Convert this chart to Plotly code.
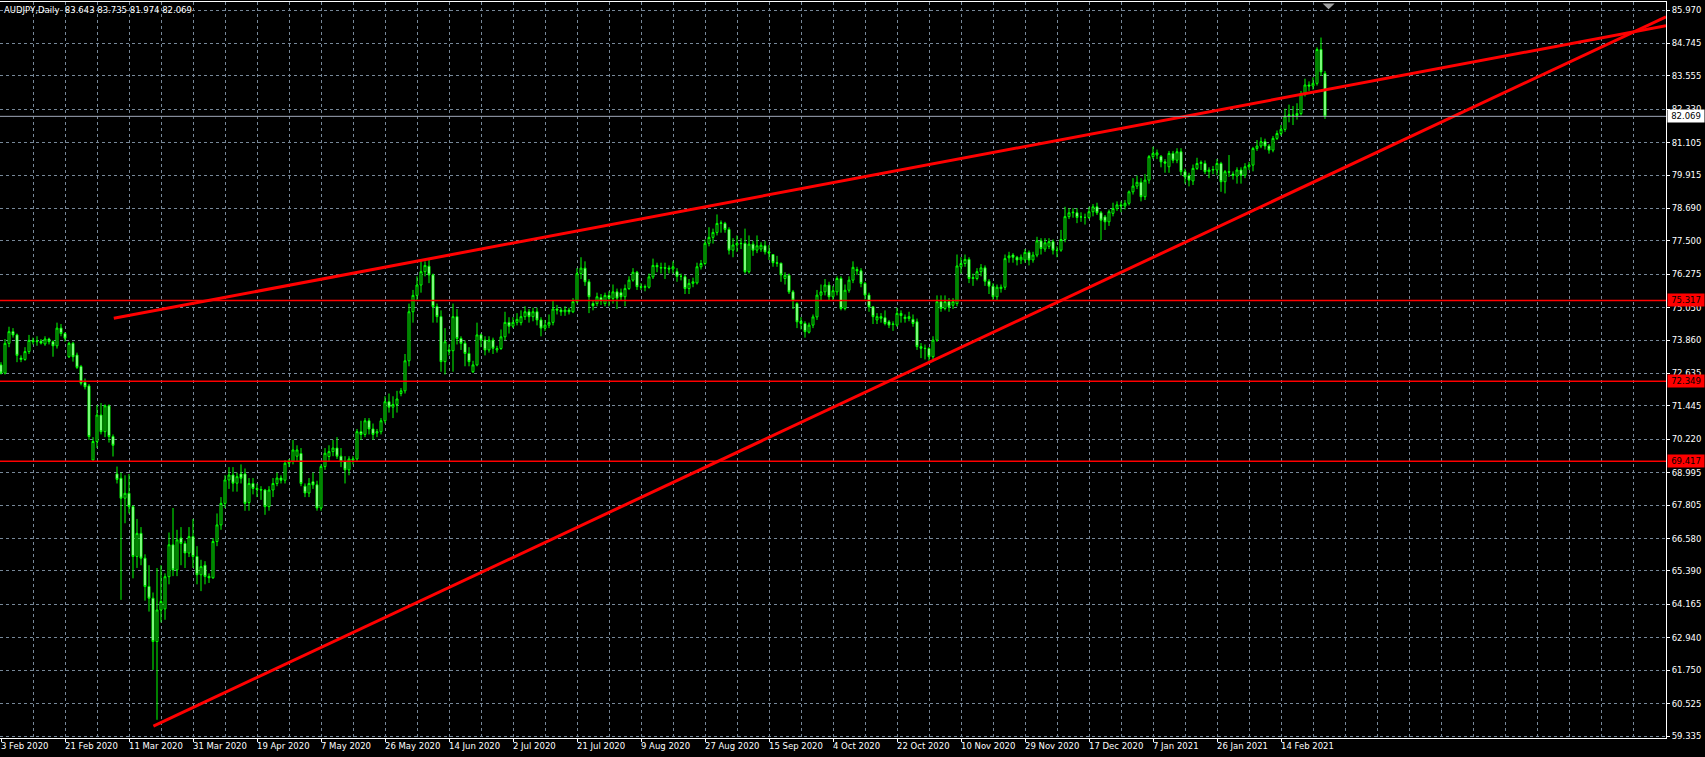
import plotly.graph_objects as go

# AUDJPY daily bars, 3 Feb 2020 .. 26 Feb 2021 (feed with Sunday bars)
opens = [
    72.95, 72.65, 73.74, 74.17, 74.05, 73.20, 73.15, 73.44, 73.85, 73.80,
    73.82, 73.72, 73.90, 73.80, 73.65, 74.30, 74.10, 73.25, 73.74, 73.31,
    72.89, 72.30, 72.18, 69.46, 70.14, 71.11, 70.50, 71.45, 70.32, 68.95,
    68.79, 68.06, 68.24, 67.75, 65.92, 66.77, 65.86, 64.82, 64.39, 62.80,
    63.96, 64.00, 65.18, 66.35, 65.43, 66.60, 66.40, 66.05, 66.65, 65.92,
    65.25, 65.60, 65.19, 65.14, 66.47, 67.08, 67.87, 68.73, 68.91, 68.61,
    68.95, 68.95, 67.90, 68.60, 68.42, 68.38, 68.36, 67.75, 68.36, 68.60,
    68.80, 68.72, 69.34, 69.41, 69.60, 69.70, 68.50, 68.25, 68.66, 68.55,
    67.70, 69.22, 69.59, 69.77, 69.90, 69.60, 69.40, 69.10, 69.45, 69.50,
    70.50, 70.40, 70.90, 70.60, 70.45, 70.50, 70.90, 71.60, 71.40, 71.50,
    71.90, 72.00, 73.10, 74.90, 75.50, 75.88, 76.37, 76.57, 76.25, 75.09,
    74.72, 73.07, 73.50, 73.47, 74.72, 73.92, 73.74, 73.37, 72.70, 72.95,
    74.05, 73.86, 73.50, 73.86, 73.50, 73.55, 73.98, 74.51, 74.37, 74.51,
    74.50, 74.72, 74.90, 74.72, 74.90, 74.60, 74.30, 74.41, 74.51, 75.00,
    74.96, 74.90, 74.96, 74.90, 75.27, 76.30, 76.50, 76.00, 75.20, 75.20,
    75.42, 75.20, 75.50, 75.39, 75.63, 75.60, 75.45, 75.75, 76.06, 76.35,
    75.82, 75.80, 75.80, 76.18, 76.60, 76.50, 76.52, 76.50, 76.47, 76.37,
    76.20, 76.18, 75.75, 75.94, 75.96, 76.55, 76.67, 77.41, 77.63, 77.81,
    78.14, 78.14, 77.92, 77.16, 77.35, 77.41, 77.41, 76.37, 77.38, 77.16,
    77.20, 77.32, 77.10, 77.00, 76.70, 76.68, 76.12, 76.24, 75.63, 75.20,
    74.55, 74.47, 74.15, 74.41, 74.71, 75.51, 75.63, 75.88, 75.45, 75.63,
    76.12, 75.02, 75.69, 76.06, 76.45, 76.40, 75.94, 75.51, 75.08, 74.60,
    74.72, 74.68, 74.53, 74.43, 74.41, 74.84, 74.70, 74.65, 74.62, 74.53,
    73.62, 73.56, 73.55, 73.25, 73.86, 75.27, 75.02, 75.27, 75.14, 75.20,
    76.55, 76.67, 76.82, 76.12, 76.12, 76.37, 76.51, 76.02, 75.84, 75.45,
    75.75, 75.80, 76.88, 76.98, 76.90, 76.80, 76.80, 77.08, 76.80, 76.98,
    77.50, 77.20, 77.30, 77.47, 77.16, 77.16, 77.55, 78.39, 78.53, 78.53,
    78.38, 78.36, 78.36, 78.57, 78.75, 78.53, 78.38, 78.20, 78.51, 78.69,
    78.82, 78.78, 78.88, 79.30, 79.51, 79.65, 79.12, 79.73, 80.59, 80.65,
    80.60, 80.40, 80.22, 80.71, 80.46, 80.77, 80.04, 79.90, 79.70, 80.16,
    80.34, 80.34, 80.04, 80.10, 80.10, 80.34, 79.67, 80.04, 79.95, 79.88,
    80.10, 79.91, 80.22, 80.28, 80.89, 80.98, 81.14, 80.98, 80.83, 81.26,
    81.44, 81.59, 82.08, 82.12, 82.10, 82.17, 82.91, 83.22, 83.18, 83.28,
    84.52, 83.643,
]
highs = [
    73.05, 73.90, 74.35, 74.30, 74.10, 73.30, 73.60, 74.05, 73.95, 74.00,
    73.90, 74.00, 73.95, 73.85, 74.50, 74.45, 74.15, 73.80, 73.80, 73.40,
    72.95, 72.45, 72.25, 70.30, 71.48, 71.55, 71.50, 71.50, 70.40, 69.22,
    69.00, 68.90, 68.95, 67.80, 67.30, 67.00, 66.00, 65.60, 64.60, 65.50,
    65.60, 65.30, 66.80, 67.70, 66.90, 67.00, 66.50, 67.00, 67.30, 66.30,
    65.80, 65.75, 65.30, 66.60, 67.50, 68.10, 68.90, 69.20, 69.20, 69.00,
    69.30, 69.15, 68.80, 68.80, 68.60, 68.50, 68.40, 68.50, 68.80, 69.00,
    68.90, 69.45, 69.50, 70.20, 70.00, 69.90, 68.60, 68.80, 69.00, 68.70,
    69.30, 69.90, 70.00, 70.20, 70.30, 69.90, 69.60, 69.60, 69.60, 70.60,
    70.90, 71.00, 71.00, 70.80, 70.60, 71.00, 71.80, 71.90, 71.80, 72.00,
    72.10, 73.35, 75.20, 75.70, 76.20, 76.75, 76.75, 76.80, 76.30, 75.20,
    74.95, 74.30, 73.70, 75.20, 75.00, 74.00, 73.85, 73.60, 73.10, 74.50,
    74.10, 74.00, 74.00, 73.95, 73.65, 74.25, 74.90, 74.70, 74.70, 74.85,
    74.95, 75.10, 75.00, 75.05, 75.05, 74.70, 74.60, 74.80, 75.30, 75.15,
    75.05, 75.10, 75.05, 75.40, 76.50, 76.90, 76.75, 76.10, 75.30, 75.60,
    75.55, 75.60, 75.65, 75.90, 75.75, 75.75, 75.90, 76.20, 76.50, 76.40,
    75.95, 75.90, 76.30, 76.85, 76.70, 76.70, 76.70, 76.60, 76.75, 76.50,
    76.30, 76.25, 76.10, 76.15, 76.70, 76.80, 77.55, 78.00, 77.95, 78.47,
    78.25, 78.20, 78.00, 77.60, 77.70, 77.60, 77.95, 77.70, 77.50, 77.70,
    77.45, 77.50, 77.35, 77.00, 76.95, 76.70, 76.35, 76.30, 75.70, 75.25,
    74.70, 74.55, 74.50, 74.80, 75.70, 75.90, 76.10, 76.00, 75.85, 76.20,
    76.20, 75.90, 76.20, 76.75, 76.55, 76.50, 76.00, 75.60, 75.10, 74.85,
    74.85, 74.95, 74.60, 74.55, 75.05, 74.95, 74.80, 74.90, 74.80, 74.65,
    73.75, 73.70, 73.60, 74.00, 75.50, 75.50, 75.50, 75.40, 75.40, 77.00,
    76.90, 77.00, 76.90, 76.30, 76.50, 76.65, 76.60, 76.10, 75.95, 75.90,
    75.90, 77.00, 77.10, 77.05, 76.95, 77.00, 77.20, 77.15, 77.10, 77.65,
    77.60, 77.60, 77.60, 77.55, 77.30, 77.90, 78.75, 78.70, 78.70, 78.70,
    78.55, 78.50, 78.75, 78.85, 78.90, 78.60, 78.45, 78.65, 78.90, 78.95,
    78.95, 79.00, 79.35, 79.80, 79.90, 79.80, 79.95, 80.65, 80.95, 80.85,
    80.65, 80.50, 80.80, 80.80, 80.90, 80.90, 80.15, 80.00, 80.30, 80.55,
    80.45, 80.45, 80.20, 80.25, 80.50, 80.40, 80.10, 80.65, 80.05, 80.20,
    80.20, 80.35, 80.40, 80.95, 81.20, 81.30, 81.25, 81.05, 81.35, 81.55,
    81.75, 82.35, 82.50, 82.45, 82.55, 83.00, 83.45, 83.35, 83.50, 84.60,
    84.96, 83.735,
]
lows = [
    72.60, 72.60, 73.60, 73.95, 73.05, 73.05, 73.10, 73.35, 73.70, 73.65,
    73.70, 73.65, 73.70, 73.25, 73.55, 74.00, 73.80, 73.20, 73.07, 72.80,
    72.20, 72.05, 70.20, 69.45, 69.90, 70.40, 70.30, 70.10, 69.59, 68.60,
    64.33, 67.14, 67.50, 65.12, 65.50, 65.60, 64.30, 63.90, 61.76, 59.93,
    63.50, 63.60, 64.90, 65.20, 65.20, 65.60, 65.50, 65.90, 65.50, 64.90,
    64.65, 64.90, 64.95, 65.10, 66.30, 66.90, 67.70, 68.40, 68.30, 68.30,
    68.60, 67.60, 67.60, 68.20, 68.10, 68.00, 67.45, 67.60, 68.10, 68.50,
    68.60, 68.60, 69.20, 69.30, 69.40, 68.50, 68.10, 68.10, 68.40, 67.60,
    67.60, 69.10, 69.40, 69.60, 69.50, 69.20, 68.60, 68.90, 69.30, 69.40,
    70.20, 70.30, 70.40, 70.20, 70.30, 70.40, 70.80, 71.20, 71.00, 71.20,
    71.80, 71.90, 72.90, 74.50, 75.30, 75.60, 76.20, 75.95, 74.50, 74.50,
    72.70, 72.60, 73.30, 72.70, 73.70, 73.50, 72.90, 72.90, 72.65, 72.90,
    73.60, 73.30, 73.40, 73.35, 73.40, 73.50, 73.85, 74.10, 74.30, 74.40,
    74.40, 74.60, 74.50, 74.55, 74.40, 74.00, 74.20, 74.30, 74.40, 74.80,
    74.75, 74.75, 74.80, 74.85, 75.20, 76.10, 75.85, 74.85, 74.95, 75.10,
    75.15, 75.10, 75.10, 75.20, 75.00, 75.30, 75.10, 75.70, 76.00, 75.70,
    75.70, 75.65, 75.75, 76.10, 76.35, 76.30, 76.10, 76.30, 76.30, 76.00,
    76.05, 75.55, 75.55, 75.80, 75.90, 76.45, 76.60, 77.30, 77.40, 77.70,
    77.80, 77.80, 77.00, 76.90, 77.10, 77.20, 76.30, 76.30, 76.95, 77.05,
    77.10, 77.00, 76.80, 76.55, 76.55, 76.00, 75.90, 75.55, 75.00, 74.30,
    74.25, 73.95, 74.10, 74.30, 74.60, 75.30, 75.50, 75.30, 75.30, 75.50,
    74.95, 74.95, 75.60, 75.95, 76.25, 75.80, 75.35, 74.90, 74.45, 74.45,
    74.50, 74.40, 74.30, 74.20, 74.35, 74.50, 74.50, 74.55, 74.35, 73.50,
    73.20, 73.15, 73.10, 73.15, 73.80, 74.90, 74.95, 74.90, 75.00, 75.10,
    76.30, 76.55, 75.95, 75.85, 76.05, 76.20, 75.85, 75.55, 75.30, 75.30,
    75.60, 75.70, 76.70, 76.70, 76.60, 76.65, 76.70, 76.60, 76.70, 76.90,
    77.00, 77.10, 77.20, 77.00, 76.90, 77.10, 77.45, 78.30, 78.35, 78.15,
    78.20, 78.10, 78.30, 78.40, 78.45, 77.53, 77.90, 78.05, 78.40, 78.60,
    78.55, 78.65, 78.80, 79.20, 79.40, 78.95, 79.00, 79.60, 80.50, 80.50,
    80.20, 80.00, 80.00, 80.35, 80.35, 79.90, 79.60, 79.50, 79.55, 80.10,
    80.10, 79.95, 79.80, 79.95, 79.90, 79.30, 79.24, 79.85, 79.75, 79.60,
    79.60, 79.80, 80.10, 80.05, 80.80, 80.90, 80.85, 80.70, 80.75, 81.20,
    81.35, 81.50, 81.85, 81.75, 81.95, 82.10, 82.80, 83.00, 83.05, 83.20,
    83.55, 81.974,
]
closes = [
    72.65, 73.74, 74.17, 74.05, 73.30, 73.15, 73.44, 73.85, 73.80, 73.82,
    73.75, 73.90, 73.80, 73.65, 74.30, 74.10, 73.93, 73.74, 73.25, 72.86,
    72.28, 72.15, 70.32, 70.14, 71.11, 70.50, 71.45, 70.32, 70.00, 68.75,
    68.06, 68.24, 67.75, 65.92, 66.77, 65.86, 64.82, 64.39, 62.80, 63.96,
    64.27, 65.18, 66.35, 65.43, 66.53, 66.40, 66.05, 66.65, 65.92, 65.25,
    65.55, 65.19, 65.14, 66.47, 67.08, 67.87, 68.73, 68.91, 68.61, 68.85,
    68.79, 67.87, 68.60, 68.42, 68.38, 68.36, 67.75, 68.36, 68.60, 68.80,
    68.72, 69.34, 69.41, 69.83, 69.83, 68.60, 68.25, 68.60, 68.55, 67.70,
    69.22, 69.71, 69.77, 69.90, 69.60, 69.40, 69.10, 69.50, 69.50, 70.50,
    70.40, 70.90, 70.60, 70.40, 70.50, 70.90, 71.60, 71.40, 71.50, 71.70,
    72.00, 73.10, 74.90, 75.50, 75.88, 76.37, 76.60, 76.25, 75.09, 74.72,
    73.07, 73.80, 73.45, 74.72, 73.92, 73.74, 73.37, 73.07, 72.95, 74.05,
    73.86, 73.50, 73.86, 73.56, 73.55, 73.98, 74.51, 74.37, 74.51, 74.62,
    74.72, 74.90, 74.72, 74.90, 74.60, 74.30, 74.41, 74.51, 75.00, 74.96,
    74.90, 74.96, 74.90, 75.27, 76.30, 76.50, 76.00, 75.45, 75.12, 75.45,
    75.30, 75.50, 75.39, 75.63, 75.40, 75.45, 75.75, 76.06, 76.35, 75.82,
    75.80, 75.82, 76.18, 76.60, 76.55, 76.52, 76.50, 76.47, 76.55, 76.20,
    76.20, 75.75, 75.94, 76.00, 76.55, 76.67, 77.41, 77.63, 77.81, 78.14,
    78.16, 77.92, 77.16, 77.35, 77.41, 77.40, 76.37, 77.38, 77.16, 77.32,
    77.34, 77.10, 77.05, 76.70, 76.68, 76.25, 76.24, 75.63, 75.33, 74.53,
    74.47, 74.17, 74.41, 74.71, 75.51, 75.63, 75.88, 75.45, 75.67, 76.12,
    75.02, 75.69, 76.06, 76.53, 76.40, 75.94, 75.51, 75.08, 74.72, 74.72,
    74.66, 74.47, 74.41, 74.45, 74.84, 74.76, 74.65, 74.72, 74.47, 73.62,
    73.56, 73.55, 73.25, 73.86, 75.27, 75.02, 75.27, 75.08, 75.27, 76.58,
    76.67, 76.82, 76.12, 76.15, 76.37, 76.51, 76.02, 75.84, 75.45, 75.80,
    75.80, 76.85, 76.95, 76.90, 76.80, 76.90, 77.08, 76.80, 76.98, 77.50,
    77.22, 77.43, 77.47, 77.16, 77.15, 77.55, 78.39, 78.53, 78.55, 78.36,
    78.38, 78.36, 78.57, 78.75, 78.53, 78.26, 78.20, 78.57, 78.69, 78.82,
    78.78, 78.88, 79.30, 79.51, 79.65, 79.12, 79.73, 80.59, 80.71, 80.73,
    80.40, 80.35, 80.71, 80.46, 80.77, 80.04, 79.85, 79.73, 80.16, 80.34,
    80.38, 80.04, 80.10, 80.12, 80.34, 79.67, 80.04, 80.02, 79.90, 80.10,
    79.91, 80.22, 80.28, 80.89, 80.98, 81.14, 80.98, 80.83, 81.26, 81.44,
    81.59, 82.08, 82.12, 82.10, 82.17, 82.91, 83.22, 83.18, 83.28, 84.52,
    83.70, 82.069,
]

# one label every 16 bars, as the terminal prints them
date_labels = [
    "3 Feb 2020", "21 Feb 2020", "11 Mar 2020", "31 Mar 2020", "19 Apr 2020",
    "7 May 2020", "26 May 2020", "14 Jun 2020", "2 Jul 2020", "21 Jul 2020",
    "9 Aug 2020", "27 Aug 2020", "15 Sep 2020", "4 Oct 2020", "22 Oct 2020",
    "10 Nov 2020", "29 Nov 2020", "17 Dec 2020", "7 Jan 2021", "26 Jan 2021",
    "14 Feb 2021",
]
price_ticks = [
    85.970, 84.745, 83.555, 82.330, 81.105, 79.915, 78.690, 77.500, 76.275,
    75.050, 73.860, 72.635, 71.445, 70.220, 68.995, 67.805, 66.580, 65.390,
    64.165, 62.940, 61.750, 60.525, 59.335,
]
levels = [75.317, 72.349, 69.417]
bid = 82.069
ohlc_text = "AUDJPY,Daily\u00a0 83.643 83.735 81.974 82.069"

# trend line anchors (bar index, price); both are rays to the right
upper_trend = [(28.2, 74.66), (300.0, 82.18)]
lower_trend = [(38.1, 59.70), (399.75, 84.585)]

assert len(opens) == len(highs) == len(lows) == len(closes)

bars = list(range(len(closes)))
label_pos = [16 * k for k in range(len(date_labels))]
X_RANGE = [-0.25, 416.25]
Y_RANGE = [59.262, 86.264]
GRID = "#778899"
RED = "#FF0000"
FONT = "DejaVu Sans"
FS = 8.5

fig = go.Figure(
    go.Candlestick(
        x=bars, open=opens, high=highs, low=lows, close=closes,
        increasing=dict(line=dict(color="#00FF00", width=1), fillcolor="#000000"),
        decreasing=dict(line=dict(color="#00FF00", width=1), fillcolor="#FFFFFF"),
        whiskerwidth=0, hoverinfo="skip", showlegend=False,
    )
)


def ray(pts):
    (x0, y0), (x1, y1) = pts
    slope = (y1 - y0) / (x1 - x0)
    return dict(type="line", xref="x", yref="y", x0=x0, y0=y0,
                x1=X_RANGE[1], y1=y0 + slope * (X_RANGE[1] - x0),
                line=dict(color=RED, width=3))


shapes = [ray(upper_trend), ray(lower_trend)]
for lv in levels:
    shapes.append(dict(type="line", xref="paper", yref="y", x0=0, x1=1, y0=lv, y1=lv,
                       line=dict(color=RED, width=1.5)))
shapes.append(dict(type="line", xref="paper", yref="y", x0=0, x1=1, y0=bid, y1=bid,
                   line=dict(color="#A0A8B8", width=1)))
# chart shift marker at the top
shapes.append(dict(type="path", xref="x", yref="paper",
                   path="M 330.4 0.998 L 333.4 0.998 L 331.9 0.990 Z",
                   fillcolor="#A0A0A0", line=dict(width=0)))

annotations = [
    dict(text=ohlc_text, xref="paper", yref="paper", x=0, y=1, xanchor="left", yanchor="top",
         xshift=2, yshift=-1, showarrow=False, font=dict(family=FONT, size=FS, color="#FFFFFF"))
]
# date labels start at their tick, like the terminal draws them
for pos, txt in zip(label_pos, date_labels):
    annotations.append(dict(text=txt, xref="x", yref="paper", x=pos, y=0,
                            xanchor="left", yanchor="top", xshift=-1, yshift=-2,
                            showarrow=False, borderpad=0,
                            font=dict(family=FONT, size=FS, color="#FFFFFF")))
for lv in levels:
    annotations.append(dict(text=f"{lv:.3f}", xref="paper", yref="y", x=1, y=lv,
                            xanchor="left", yanchor="middle", xshift=1, showarrow=False,
                            bgcolor=RED, borderpad=1, width=34,
                            font=dict(family=FONT, size=FS, color="#000000")))
annotations.append(dict(text=f"{bid:.3f}", xref="paper", yref="y", x=1, y=bid,
                        xanchor="left", yanchor="middle", xshift=1, showarrow=False,
                        bgcolor="#FFFFFF", borderpad=1, width=34,
                        font=dict(family=FONT, size=FS, color="#000000")))

fig.update_layout(
    width=1705, height=757,
    margin=dict(l=0, r=39, t=2, b=19),
    paper_bgcolor="#000000", plot_bgcolor="#000000",
    font=dict(family=FONT, size=FS, color="#FFFFFF"),
    shapes=shapes, annotations=annotations,
    showlegend=False,
    xaxis=dict(
        range=X_RANGE, rangeslider=dict(visible=False), automargin=False,
        tickvals=label_pos, showticklabels=False,
        ticks="outside", ticklen=3, tickcolor="#FFFFFF",
        showgrid=False, zeroline=False,
        showline=True, mirror=True, linecolor="#FFFFFF", linewidth=1,
        minor=dict(dtick=8, tick0=0, showgrid=True, gridcolor=GRID, griddash="3px,3px",
                   gridwidth=1, ticks=""),
    ),
    yaxis=dict(
        range=Y_RANGE, side="right", automargin=False,
        tickvals=price_ticks, ticktext=[f"{v:.3f}" for v in price_ticks],
        ticks="outside", ticklen=3, tickcolor="#FFFFFF",
        tickfont=dict(family=FONT, size=FS, color="#FFFFFF"),
        showgrid=True, gridcolor=GRID, griddash="3px,3px", gridwidth=1,
        zeroline=False, showline=True, linecolor="#FFFFFF", linewidth=1,
    ),
)

# the page's default 8px body margin would push the chart off the window
fig.write_html("out.html", config={"displayModeBar": False},
               post_script="document.body.style.margin='0';document.body.style.overflow='hidden';")
